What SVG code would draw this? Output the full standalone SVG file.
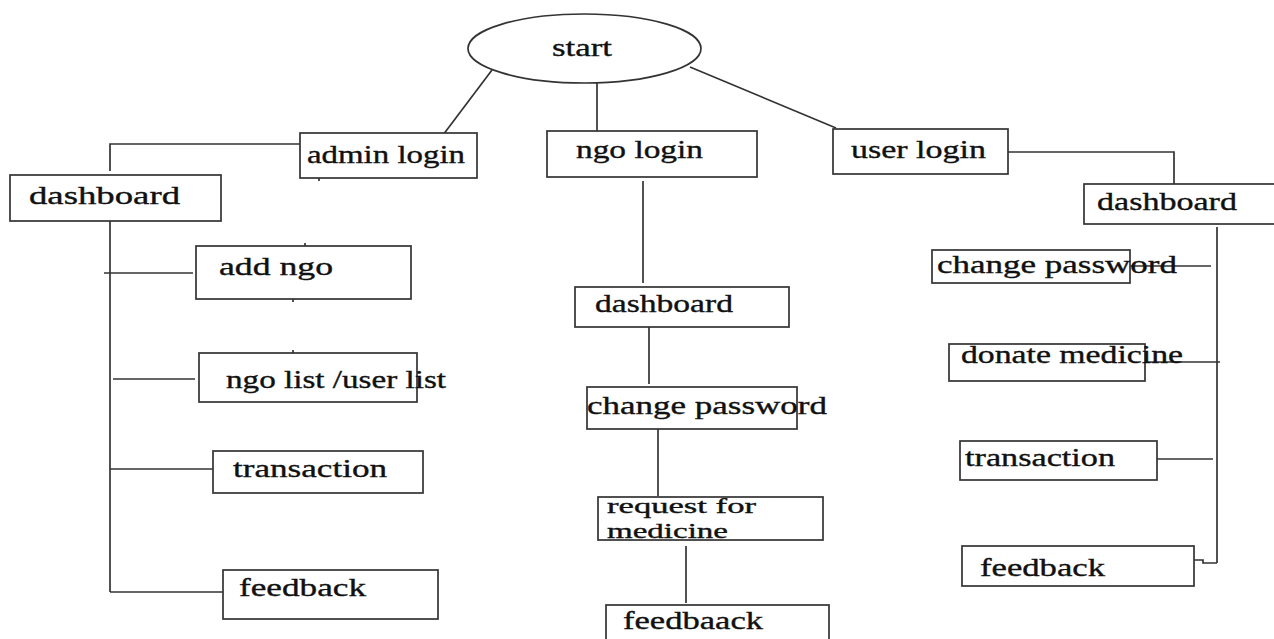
<svg xmlns="http://www.w3.org/2000/svg" width="1274" height="639" viewBox="0 0 1274 639">
<style>
.b{fill:#fff;stroke:#333;stroke-width:1.7}
.c line,.c polyline{stroke:#333;stroke-width:1.7;fill:none}
text{font-family:"Liberation Serif","Times New Roman",serif;font-size:25px;fill:#111;stroke:#111;stroke-width:0.35}
.s{font-size:21px}
</style>
<rect width="1274" height="639" fill="#fff"/>
<g class="c" id="connectors">
<line x1="492" y1="70" x2="443" y2="135"/>
<line x1="597" y1="83" x2="597" y2="133"/>
<line x1="690" y1="67" x2="836" y2="128"/>
<polyline points="300,144 110,144 110,171"/>
<line x1="110" y1="218" x2="110" y2="592"/>
<line x1="104" y1="273" x2="193" y2="273"/>
<line x1="113" y1="379" x2="195" y2="379"/>
<line x1="110" y1="469" x2="213" y2="469"/>
<line x1="110" y1="592" x2="223" y2="592"/>
<line x1="319" y1="178" x2="319" y2="181"/>
<line x1="305" y1="243" x2="305" y2="246"/>
<line x1="293" y1="299" x2="293" y2="302"/>
<line x1="293" y1="350" x2="293" y2="353"/>
<line x1="643" y1="181" x2="643" y2="283"/>
<line x1="649" y1="327" x2="649" y2="384"/>
<line x1="658" y1="429" x2="658" y2="496"/>
<line x1="686" y1="546" x2="686" y2="603"/>
<polyline points="1008,152 1174,152 1174,184"/>
<line x1="1217" y1="227" x2="1217" y2="563"/>
<line x1="1130" y1="266" x2="1211" y2="266"/>
<line x1="1145" y1="362" x2="1220" y2="362"/>
<line x1="1157" y1="459" x2="1213" y2="459"/>
<polyline points="1194,560 1203,560 1203,563 1217,563"/>
</g>
<g id="start"><ellipse class="b" cx="584.5" cy="48.5" rx="116.5" ry="34.5"/><text x="552" y="56" textLength="60" lengthAdjust="spacingAndGlyphs">start</text></g>
<g id="admin-login"><rect class="b" x="300" y="133" width="177" height="45"/><text x="307" y="163" textLength="158" lengthAdjust="spacingAndGlyphs">admin login</text></g>
<g id="ngo-login"><rect class="b" x="547" y="131" width="210" height="46"/><text x="576" y="158" textLength="127" lengthAdjust="spacingAndGlyphs">ngo login</text></g>
<g id="user-login"><rect class="b" x="833" y="129" width="175" height="45"/><text x="851" y="158" textLength="135" lengthAdjust="spacingAndGlyphs">user login</text></g>
<g id="admin-dashboard"><rect class="b" x="10" y="175" width="211" height="46"/><text x="29" y="204" textLength="151" lengthAdjust="spacingAndGlyphs">dashboard</text></g>
<g id="add-ngo"><rect class="b" x="196" y="246" width="215" height="53"/><text x="219" y="275" textLength="114" lengthAdjust="spacingAndGlyphs">add ngo</text></g>
<g id="ngo-list"><rect class="b" x="199" y="353" width="218" height="49"/><text x="226" y="388" textLength="220" lengthAdjust="spacingAndGlyphs">ngo list /user list</text></g>
<g id="admin-transaction"><rect class="b" x="213" y="451" width="210" height="42"/><text x="233" y="477" textLength="154" lengthAdjust="spacingAndGlyphs">transaction</text></g>
<g id="admin-feedback"><rect class="b" x="223" y="570" width="215" height="49"/><text x="239" y="596" textLength="127" lengthAdjust="spacingAndGlyphs">feedback</text></g>
<g id="ngo-dashboard"><rect class="b" x="575" y="287" width="214" height="40"/><text x="595" y="312" textLength="138" lengthAdjust="spacingAndGlyphs">dashboard</text></g>
<g id="ngo-change-password"><rect class="b" x="587" y="387" width="210" height="42"/><text x="587" y="414" textLength="240" lengthAdjust="spacingAndGlyphs">change password</text></g>
<g id="request-medicine"><rect class="b" x="598" y="497" width="225" height="43"/><text class="s" x="607" y="513" textLength="149" lengthAdjust="spacingAndGlyphs">request for</text><text class="s" x="607" y="538" textLength="121" lengthAdjust="spacingAndGlyphs">medicine</text></g>
<g id="feedbaack"><rect class="b" x="606" y="605" width="223" height="50"/><text x="623" y="629" textLength="140" lengthAdjust="spacingAndGlyphs">feedbaack</text></g>
<g id="user-dashboard"><rect class="b" x="1084" y="184" width="200" height="40"/><text x="1097" y="210" textLength="140" lengthAdjust="spacingAndGlyphs">dashboard</text></g>
<g id="user-change-password"><rect class="b" x="932" y="250" width="198" height="33"/><text x="937" y="273" textLength="240" lengthAdjust="spacingAndGlyphs">change password</text></g>
<g id="donate-medicine"><rect class="b" x="949" y="344" width="196" height="37"/><text x="961" y="363" textLength="222" lengthAdjust="spacingAndGlyphs">donate medicine</text></g>
<g id="user-transaction"><rect class="b" x="960" y="441" width="197" height="39"/><text x="965" y="466" textLength="150" lengthAdjust="spacingAndGlyphs">transaction</text></g>
<g id="user-feedback"><rect class="b" x="962" y="546" width="232" height="40"/><text x="980" y="576" textLength="125" lengthAdjust="spacingAndGlyphs">feedback</text></g>
</svg>
